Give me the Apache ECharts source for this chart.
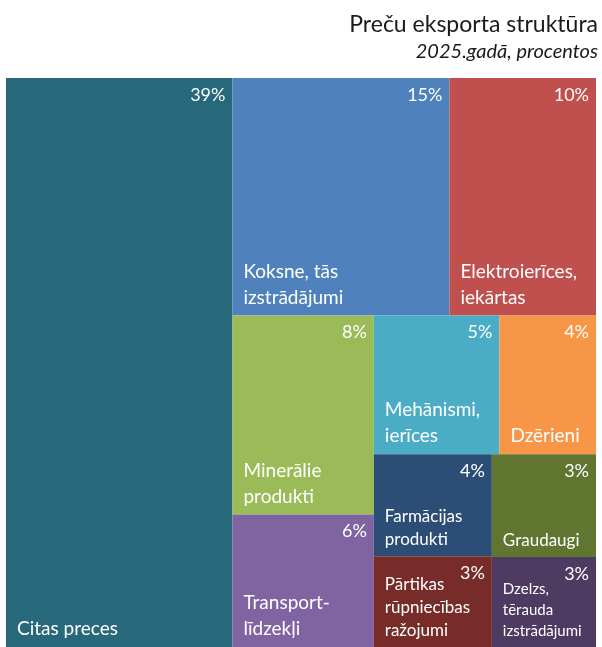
<!DOCTYPE html>
<html>
  <head>
    <meta charset="utf-8" />
    <title>Preču eksporta struktūra</title>
    <script src="https://cdn.jsdelivr.net/npm/echarts@6/dist/echarts.min.js"></script>
    <style>
      html, body { margin: 0; padding: 0; background: #fff; }
    </style>
  </head>
  <body>
    <div id="main" style="width: 602px; height: 647px"></div>
  </body>

  <script>
    // kategorijas (secība = izkārtojuma secība)
    var names = [
      "Citas preces",
      "Koksne, tās\nizstrādājumi",
      "Elektroierīces,\niekārtas",
      "Minerālie\nprodukti",
      "Transport-\nlīdzekļi",
      "Mehānismi,\nierīces",
      "Dzērieni",
      "Farmācijas\nprodukti",
      "Pārtikas\nrūpniecības\nražojumi",
      "Graudaugi",
      "Dzelzs,\ntērauda\nizstrādājumi",
    ];
    // daļa eksportā, % (nolasīts no laukumiem; uzrakstos noapaļots)
    var shares = [38.5, 15.4, 10.4, 8.4, 5.6, 5.2, 4.0, 3.6, 3.2, 3.2, 2.8];

    var colors = [
      "#27697a", "#4f81bd", "#c0504d", "#9bbb59", "#8064a2", "#4bacc6",
      "#f79646", "#2c4d75", "#772c2a", "#5f7530", "#4d3b62",
    ];
    var nameFont = [19, 19, 19, 19, 19, 19, 19, 17, 17, 17, 15];

    var FONT = "Lato";

    var myChart = echarts.init(document.getElementById("main"));

    var pctData = names.map(function (n, i) {
      return { name: n, value: shares[i], itemStyle: { color: colors[i] } };
    });
    var nameData = names.map(function (n, i) {
      return {
        name: n,
        value: shares[i],
        itemStyle: { color: "rgba(0,0,0,0)" },
        label: { fontSize: nameFont[i], lineHeight: Math.round(nameFont[i] * 1.38) },
      };
    });

    function treemap(extra) {
      return Object.assign(
        {
          type: "treemap",
          left: 6,
          right: 6,
          top: 78,
          bottom: 0,
          sort: false,
          squareRatio: 0.84, // tuvāk oriģinālajam izkārtojumam
          roam: false,
          nodeClick: false,
          silent: true,
          animation: false,
          breadcrumb: { show: false },
          // caurspīdīga fona krāsa, lai otrā sērija nepārklāj pirmo
          itemStyle: { borderWidth: 0, gapWidth: 0, borderColor: "rgba(0,0,0,0)" },
        },
        extra
      );
    }

    option = {
      backgroundColor: "#fff",
      title: [
        {
          text: "Preču eksporta struktūra",
          right: 4,
          top: 13,
          padding: 0,
          textStyle: { fontFamily: FONT, fontSize: 23, fontWeight: "normal", color: "#1a1a1a" },
        },
        {
          text: "2025.gadā, procentos",
          right: 4,
          top: 42,
          padding: 0,
          textStyle: { fontFamily: FONT, fontSize: 20, fontStyle: "italic", fontWeight: "normal", color: "#1a1a1a" },
        },
      ],
      series: [
        treemap({
          name: "pct",
          data: pctData,
          label: {
            show: true,
            position: "insideTopRight",
            padding: [8, 7, 0, 0],
            fontFamily: FONT,
            fontSize: 18,
            color: "#fff",
            overflow: "none",
            formatter: function (p) {
              return Math.round(p.value) + "%";
            },
          },
        }),
        treemap({
          name: "names",
          data: nameData,
          z: 3,
          label: {
            show: true,
            position: "insideBottomLeft",
            padding: [0, 0, 5, 11],
            fontFamily: FONT,
            fontSize: 19,
            lineHeight: 26,
            color: "#fff",
            overflow: "none",
            formatter: "{b}",
          },
        }),
      ],
    };

    myChart.setOption(option);
  </script>
</html>
